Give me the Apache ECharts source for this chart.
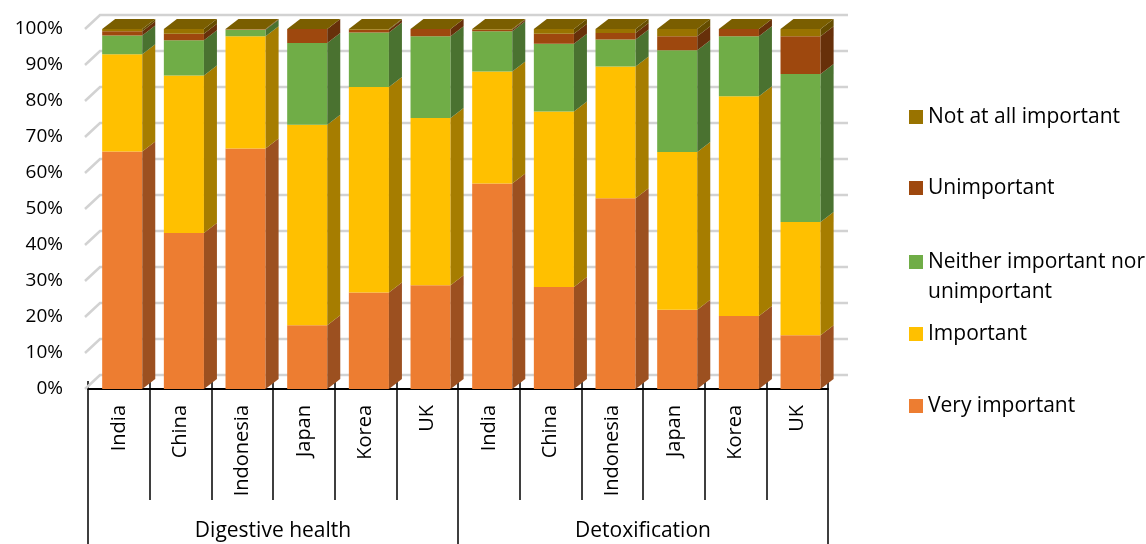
<!DOCTYPE html>
<html>
<head>
<meta charset="utf-8">
<script src="https://cdn.jsdelivr.net/npm/echarts@6/dist/echarts.min.js"></script>
<style>
  html, body { margin: 0; padding: 0; background: #ffffff; }
  #chart { width: 1146px; height: 544px; }
</style>
</head>
<body>
<div id="chart"></div>
<script>
// Survey shares (%) per country, for two health benefits
const countries = ['India', 'China', 'Indonesia', 'Japan', 'Korea', 'UK',
                   'India', 'China', 'Indonesia', 'Japan', 'Korea', 'UK'];
const groups = ['Digestive health', 'Detoxification'];
const yTicks = [0, 10, 20, 30, 40, 50, 60, 70, 80, 90, 100];

const veryImportant     = [66.0, 43.3, 66.8, 17.7, 26.8, 28.8,  57.1, 28.3, 53.0, 22.0, 20.3, 14.9];
const important         = [27.0, 43.8, 31.2, 55.7, 57.1, 46.5,  31.1, 48.8, 36.6, 43.8, 61.0, 31.5];
const neitherImportant  = [ 5.2,  9.8,  1.8, 22.7, 15.1, 22.7,  11.2, 18.8,  7.5, 28.3, 16.7, 41.1];
const unimportant       = [ 1.2,  1.8,  0.1,  3.9,  0.8,  2.0,   0.4,  2.8,  1.8,  3.9,  2.0, 10.5];
const notAtAllImportant = [ 0.6,  1.3,  0.1,  0.0,  0.2,  0.0,   0.2,  1.3,  1.1,  2.0,  0.0,  2.0];

const FONT = '"Open Sans", sans-serif';

// stacking order, bottom to top
const layers = [
  { name: 'Very important', values: veryImportant, face: '#ED7D31', side: '#9C5020' },
  { name: 'Important', values: important, face: '#FFC000', side: '#A67D00' },
  { name: 'Neither important nor unimportant', values: neitherImportant, face: '#70AD47', side: '#4A7230' },
  { name: 'Unimportant', values: unimportant, face: '#9E480E', side: '#67300A' },
  { name: 'Not at all important', values: notAtAllImportant, face: '#997300', side: '#654C00' }
];
const TOP_FACE = '#7A5E00';

// depth of the bars and of the back wall
const BAR_DX = 13, BAR_DY = 10;
const WALL_DX = 15, WALL_DY = 14;

const cumulative = countries.map(() => 0);
const barSeries = layers.map((layer, li) => {
  const data = layer.values.map((v, i) => {
    const lo = cumulative[i];
    cumulative[i] = lo + v;
    return [i, lo, lo + v];
  });
  const isTop = li === layers.length - 1;
  return {
    type: 'custom',
    name: layer.name,
    itemStyle: { color: layer.face },
    z: 3,
    clip: false,
    encode: { x: 0, y: [1, 2] },
    data: data,
    renderItem: function (params, api) {
      const idx = api.value(0), lo = api.value(1), hi = api.value(2);
      const band = api.size([1, 0])[0];
      const cx = api.coord([idx, 0])[0];
      const xl = cx - band * 0.27;
      const xr = xl + band * 0.65;
      const yb = api.coord([idx, lo])[1];
      const yt = api.coord([idx, hi])[1];
      const children = [];
      if (hi - lo > 0) {
        children.push({ type: 'rect', shape: { x: xl, y: yt, width: xr - xl, height: yb - yt },
                        style: { fill: layer.face } });
        children.push({ type: 'polygon',
                        shape: { points: [[xr, yb], [xr, yt], [xr + BAR_DX, yt - BAR_DY], [xr + BAR_DX, yb - BAR_DY]] },
                        style: { fill: layer.side } });
      }
      if (isTop) {
        children.push({ type: 'polygon',
                        shape: { points: [[xl, yt], [xl + BAR_DX, yt - BAR_DY], [xr + BAR_DX, yt - BAR_DY], [xr, yt]] },
                        style: { fill: TOP_FACE } });
      }
      return { type: 'group', children: children };
    }
  };
});

// back wall gridlines with their slanted side-wall stubs
const wallSeries = {
  type: 'custom',
  silent: true,
  z: 1,
  clip: false,
  encode: { x: 0, y: 1 },
  data: yTicks.map(v => [0, v]),
  renderItem: function (params, api) {
    const cs = params.coordSys;
    const y = api.coord([0, api.value(1)])[1];
    const x0 = cs.x - 3;
    const x1 = cs.x + cs.width + WALL_DX + 5;
    return {
      type: 'polyline',
      shape: { points: [[x0, y], [x0 + WALL_DX, y - WALL_DY], [x1, y - WALL_DY]] },
      style: { stroke: '#d2d2d2', lineWidth: 2.5, fill: null }
    };
  }
};

const legendRows = [
  { name: 'Not at all important', center: 117 },
  { name: 'Unimportant', center: 188 },
  { name: 'Neither important nor unimportant', center: 262, lines: 3 },
  { name: 'Important', center: 334 },
  { name: 'Very important', center: 406 }
];
const LINE_H = 30;

const option = {
  animation: false,
  backgroundColor: '#ffffff',
  grid: { left: 88, right: 318, top: 29, bottom: 155 },
  legend: legendRows.map(r => ({
    data: [r.name],
    left: 909,
    top: r.center - (r.lines || 1) * LINE_H / 2,
    padding: 0,
    icon: 'rect',
    itemWidth: 14,
    itemHeight: 14,
    itemGap: 0,
    selectedMode: false,
    formatter: r.lines ? () => ' \nNeither important nor\nunimportant' : '{name}',
    textStyle: { fontFamily: FONT, fontSize: 21, color: '#000', lineHeight: LINE_H }
  })),
  xAxis: [
    {
      type: 'category',
      data: countries,
      position: 'bottom',
      axisLine: { show: true, lineStyle: { color: '#000', width: 2 } },
      axisTick: { show: true, interval: 0, length: 111, lineStyle: { color: '#000', width: 1.5 } },
      axisLabel: { interval: 0, rotate: 90, margin: 16, fontFamily: FONT, fontSize: 20, color: '#000' }
    },
    {
      type: 'category',
      data: countries,
      position: 'bottom',
      axisLine: { show: false },
      axisTick: { show: true, interval: 0, inside: true, length: 8, lineStyle: { color: '#000', width: 1.5 } },
      axisLabel: { show: false }
    },
    {
      type: 'category',
      data: groups,
      position: 'bottom',
      axisLine: { show: false },
      axisTick: { show: true, interval: 0, length: 160, lineStyle: { color: '#000', width: 1.5 } },
      axisLabel: { interval: 0, margin: 132, fontFamily: FONT, fontSize: 21, color: '#000' }
    }
  ],
  yAxis: {
    type: 'value',
    min: 0,
    max: 100,
    interval: 10,
    axisLine: { show: false },
    axisTick: { show: false },
    splitLine: { show: false },
    axisLabel: { formatter: '{value}%', margin: 25, fontFamily: FONT, fontSize: 19, color: '#000' }
  },
  series: [wallSeries].concat(barSeries)
};

const chart = echarts.init(document.getElementById('chart'), null, { renderer: 'canvas' });
chart.setOption(option);
</script>
</body>
</html>
